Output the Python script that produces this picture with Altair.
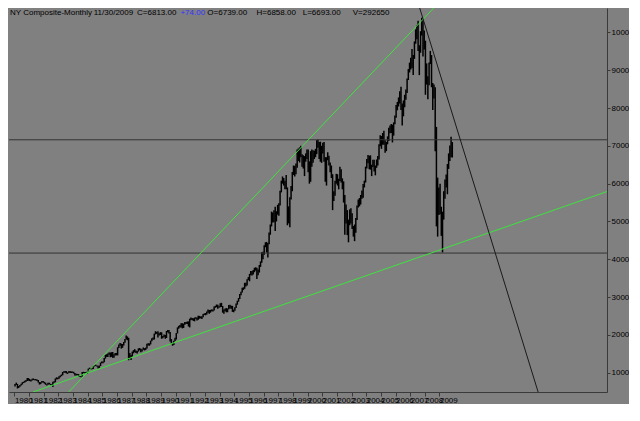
import altair as alt
import pandas as pd

# ---------------- data (monthly NYSE Composite, Jan 1980 - Nov 2009) ----------------
high_1980s = [
    705, 740, 705, 650, 680, 710, 750, 765, 790, 810, 860, 860,
    835, 810, 845, 850, 830, 835, 820, 810, 755, 750, 780, 780,
    760, 740, 700, 735, 735, 710, 695, 760, 775, 850, 880, 870,
    910, 930, 955, 1020, 1040, 1050, 1045, 1010, 1040, 1045, 1035, 1035,
    1025, 995, 975, 970, 965, 935, 925, 1020, 1025, 1020, 1020, 1025,
    1110, 1135, 1125, 1130, 1180, 1200, 1215, 1195, 1185, 1190, 1270, 1300,
    1300, 1390, 1475, 1490, 1510, 1535, 1535, 1545, 1550, 1490, 1520, 1525,
    1675, 1745, 1790, 1770, 1760, 1815, 1890, 1987, 1960, 1925, 1520, 1470,
    1560, 1600, 1625, 1590, 1575, 1645, 1655, 1635, 1625, 1670, 1650, 1665,
    1770, 1780, 1780, 1850, 1915, 1935, 2035, 2100, 2080, 2100, 2045, 2075,
]
low_1980s = [
    640, 680, 585, 600, 630, 665, 690, 730, 745, 765, 780, 790,
    780, 770, 795, 810, 800, 805, 785, 740, 690, 700, 735, 745,
    715, 685, 665, 685, 700, 675, 655, 622, 735, 750, 825, 830,
    845, 885, 910, 935, 1000, 1000, 985, 970, 1000, 995, 995, 1000,
    980, 925, 930, 940, 895, 890, 880, 900, 990, 980, 985, 970,
    1010, 1095, 1090, 1095, 1100, 1165, 1180, 1165, 1115, 1130, 1180, 1250,
    1250, 1280, 1375, 1420, 1415, 1480, 1410, 1420, 1395, 1395, 1460, 1460,
    1460, 1655, 1715, 1640, 1660, 1720, 1795, 1880, 1860, 1331, 1370, 1340,
    1430, 1515, 1545, 1520, 1510, 1560, 1595, 1545, 1560, 1610, 1590, 1605,
    1640, 1720, 1715, 1750, 1835, 1875, 1880, 2015, 2030, 1935, 1985, 2000,
]
high_1990s = [
    2070, 1975, 2010, 2000, 2105, 2130, 2130, 2080, 1890, 1790, 1850, 1925,
    2050, 2200, 2240, 2265, 2310, 2310, 2300, 2345, 2345, 2355, 2360, 2430,
    2460, 2450, 2440, 2460, 2470, 2460, 2505, 2505, 2490, 2495, 2555, 2570,
    2580, 2620, 2670, 2660, 2665, 2675, 2670, 2755, 2770, 2805, 2800, 2760,
    2840, 2850, 2765, 2670, 2700, 2710, 2700, 2790, 2800, 2770, 2770, 2670,
    2735, 2830, 2905, 2975, 3085, 3145, 3250, 3260, 3380, 3380, 3470, 3530,
    3615, 3690, 3690, 3720, 3775, 3790, 3780, 3730, 3850, 3945, 4185, 4200,
    4375, 4450, 4460, 4430, 4710, 4920, 5260, 5240, 5300, 5390, 5270, 5440,
    5480, 5810, 6080, 6190, 6150, 6080, 6230, 5900, 5400, 5640, 5940, 6310,
    6480, 6470, 6530, 6900, 6930, 6960, 7000, 6780, 6750, 6730, 6800, 6900,
]
low_1990s = [
    1900, 1910, 1945, 1900, 1920, 2070, 2040, 1830, 1760, 1715, 1735, 1840,
    1880, 2040, 2165, 2200, 2195, 2175, 2185, 2270, 2290, 2290, 2225, 2200,
    2390, 2395, 2370, 2360, 2430, 2380, 2400, 2430, 2440, 2420, 2470, 2530,
    2520, 2540, 2590, 2560, 2590, 2625, 2620, 2645, 2720, 2735, 2690, 2720,
    2730, 2740, 2590, 2560, 2630, 2600, 2600, 2680, 2700, 2690, 2610, 2600,
    2640, 2715, 2800, 2880, 2950, 3050, 3120, 3190, 3220, 3280, 3310, 3450,
    3420, 3580, 3570, 3600, 3660, 3700, 3480, 3580, 3650, 3800, 3910, 4000,
    4120, 4320, 4180, 4050, 4400, 4650, 4870, 4970, 4980, 4750, 5000, 5180,
    5150, 5420, 5770, 6000, 5950, 5850, 5850, 4900, 4950, 4850, 5580, 5800,
    6230, 6190, 6250, 6420, 6600, 6560, 6700, 6450, 6400, 6200, 6580, 6650,
]
high_2000s = [
    6900, 6590, 6860, 6900, 6880, 6870, 6920, 7150, 7165, 7100, 7110, 7000,
    7080, 7100, 6700, 6700, 6830, 6740, 6560, 6480, 6250, 5800, 6080, 6260,
    6250, 6130, 6450, 6380, 6140, 6060, 5700, 5450, 5300, 5050, 5320, 5350,
    5220, 4880, 4920, 5090, 5420, 5580, 5620, 5700, 5820, 5990, 6080, 6450,
    6650, 6760, 6740, 6750, 6500, 6630, 6630, 6480, 6640, 6730, 7040, 7280,
    7260, 7340, 7400, 7150, 7100, 7250, 7480, 7540, 7580, 7560, 7620, 7800,
    8080, 8160, 8280, 8440, 8560, 8120, 8200, 8350, 8490, 8780, 9030, 9200,
    9330, 9560, 9400, 9760, 10080, 10190, 10310, 9660, 10030, 10387, 10340, 10050,
    9780, 9180, 8840, 9200, 9510, 9400, 8660, 8620, 8550, 7500, 6160, 5900,
    6000, 5390, 5260, 5800, 6110, 6240, 6520, 6800, 7010, 7240, 7100,
]
low_2000s = [
    6300, 6000, 6050, 6450, 6550, 6650, 6700, 6780, 6950, 6650, 6580, 6550,
    6800, 6580, 6050, 5950, 6620, 6480, 6300, 6150, 5300, 5540, 5680, 6000,
    5950, 5850, 6070, 6030, 5850, 5500, 4650, 4950, 4640, 4450, 4900, 4950,
    4800, 4600, 4480, 4700, 5040, 5370, 5400, 5450, 5600, 5630, 5900, 6030,
    6400, 6540, 6380, 6370, 6200, 6440, 6320, 6220, 6420, 6480, 6640, 6990,
    6920, 7030, 7030, 6820, 6860, 7040, 7130, 7330, 7340, 7090, 7270, 7570,
    7740, 7940, 8040, 8120, 7950, 7540, 7780, 8020, 8220, 8400, 8740, 8940,
    9020, 9060, 8870, 9300, 9700, 9820, 9510, 8870, 9460, 9920, 9360, 9550,
    8350, 8620, 8230, 8600, 9160, 8550, 7950, 8250, 6860, 4870, 4600, 5170,
    5190, 4620, 4181, 5050, 5600, 5900, 5720, 6390, 6600, 6700, 6690,
]

year_ticks = list(range(1980, 2010))
price_ticks = list(range(1000, 11000, 1000))

# trend lines (year, value) end points
green_steep_t = [1983.70, 2008.61]
green_steep_v = [492, 10644]
green_flat_t = [1981.27, 2020.43]
green_flat_v = [492, 5791]
black_down_t = [2007.65, 2015.73]
black_down_v = [10644, 492]
h_levels = [7160, 4165]

header_parts = ["NY Composite-Monthly", "11/30/2009", "C=6813.00", "+74.00",
                "O=6739.00", "H=6858.00", "L=6693.00", "V=292650"]

# ---------------- build tables ----------------
highs = high_1980s + high_1990s + high_2000s
lows = low_1980s + low_1990s + low_2000s
bars = pd.DataFrame({
    "t": [1980 + i // 12 + (i % 12 + 0.5) / 12 for i in range(len(highs))],
    "high": highs,
    "low": lows,
})

lines = pd.DataFrame({
    "name": ["gs", "gs", "gf", "gf"],
    "t": green_steep_t + green_flat_t,
    "v": green_steep_v + green_flat_v,
})
blk = pd.DataFrame({"t": black_down_t, "v": black_down_v})
hl = pd.DataFrame({"v": h_levels})

W, H = 598, 384
FONT = "Liberation Sans"
xs = alt.Scale(domain=[1979.63, 2020.43], nice=False, zero=False)
ys = alt.Scale(domain=[492, 10644], nice=False, zero=False)

x_axis = alt.Axis(values=year_ticks, format="d", labelAlign="left", labelBaseline="top",
                  labelFontSize=8, labelFont=FONT, labelColor="#000000",
                  labelOverlap=False, labelFlush=False, labelBound=False,
                  labelPadding=0, tickSize=4, tickColor="#3a3a3a",
                  domainColor="#3a3a3a", grid=False, title=None)
y_axis = alt.Axis(orient="right", values=price_ticks, format="d",
                  labelExpr="substring(datum.label, 0, 4)",
                  labelFontSize=8, labelFont=FONT, labelColor="#000000",
                  labelPadding=1, tickSize=3, tickColor="#3a3a3a",
                  domainColor="#3a3a3a", grid=False, title=None,
                  labelOverlap=False, labelFlush=False)

bar_layer = alt.Chart(bars).mark_rule(color="#000000", strokeWidth=1.5).encode(
    x=alt.X("t:Q", scale=xs, axis=x_axis),
    y=alt.Y("low:Q", scale=ys, axis=y_axis),
    y2="high:Q",
)

hrule = alt.Chart(hl).mark_rule(color="#333333", strokeWidth=1).encode(
    y=alt.Y("v:Q", scale=ys, axis=None)
)

green = alt.Chart(lines).mark_line(color="#3fe23f", strokeWidth=1, clip=True).encode(
    x=alt.X("t:Q", scale=xs, axis=None),
    y=alt.Y("v:Q", scale=ys, axis=None),
    detail="name:N",
)

black = alt.Chart(blk).mark_line(color="#1a1a1a", strokeWidth=1, clip=True).encode(
    x=alt.X("t:Q", scale=xs, axis=None),
    y=alt.Y("v:Q", scale=ys, axis=None),
)

ref_x = [1, 88, 133, 178, 206, 257, 305, 357]
colors = ["#000000", "#000000", "#000000", "#3333ff", "#000000", "#000000", "#000000", "#000000"]
texts = []
one = pd.DataFrame({"a": [0]})
for part, rx, col in zip(header_parts, ref_x, colors):
    texts.append(
        alt.Chart(one).mark_text(text=part, align="left", baseline="top", font=FONT,
                                 fontSize=8, color=col).encode(
            x=alt.value(rx * W / 621), y=alt.value(1)
        )
    )

chart = alt.layer(bar_layer, hrule, green, black, *texts).resolve_axis(
    x="independent", y="independent"
).properties(
    width=W, height=H, background="#808080", padding=0
).configure_view(stroke=None, fill="#808080")

chart.save("out.html", embed_options={"renderer": "svg", "actions": False})
